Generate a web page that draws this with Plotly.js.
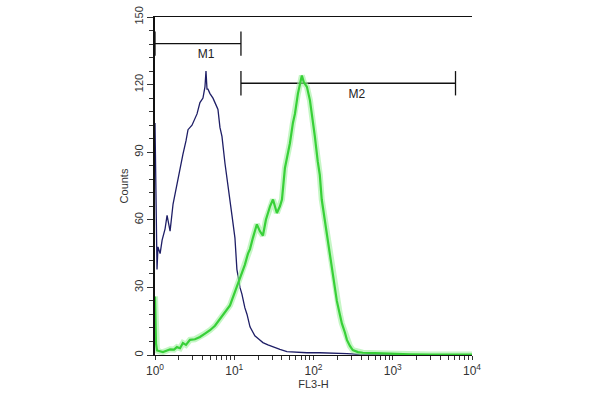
<!DOCTYPE html>
<html>
<head>
<meta charset="utf-8">
<script src="https://cdn.plot.ly/plotly-3.0.1.min.js"></script>
<style>html,body{margin:0;padding:0;background:#fff;}#chart{width:600px;height:400px;}</style>
</head>
<body>
<div id="chart"></div>
<script>
// FL3-H channel values and counts
const blueX = [1.00,1.06,1.09,1.16,1.23,1.34,1.42,1.55,1.69,1.84,2.07,2.25,2.46,2.61,2.93,3.19,3.39,3.69,4.03,4.27,4.40,4.53,4.66,4.94,5.39,5.88,6.23,6.60,7.00,7.64,8.09,8.33,8.83,9.36,10.2,10.8,11.8,12.5,13.6,14.5,15.8,17.2,18.2,20.5,23.0,26.6,30.8,37.7,46.2,58.3,82.6,120,186,264,385,687,1230,9350];
const blueY = [103,38,48,45,51,56,62,55,67,74,82,89,95,100,102,105,107,112,114,119,126,118,118,116,114,111,109,101,97,85,79,76,69,62,52,38,30,27,21,18,12.5,9.8,8.5,7,5.5,4.5,3.6,2.5,1.5,1.2,1,1,0.6,0.6,0.3,0.2,0,0];

const greenX = [1.00,1.03,1.06,1.16,1.26,1.42,1.55,1.74,1.89,2.07,2.25,2.46,2.76,3.19,3.69,4.27,4.94,5.71,6.60,7.64,8.83,10.2,11.8,13.6,14.9,15.8,17.2,19.3,21.0,23.0,25.1,28.3,30.8,34.5,37.7,40.0,43.6,47.6,50.4,55.0,58.3,63.6,67.3,71.3,75.5,82.6,90.2,95.6,104,113,120,127,139,147,161,170,186,197,215,228,249,264,288,313,364,418,595,920,1660,2940,10000];
const greenY = [26,5,2,1.5,1.3,2.0,2.5,2.4,3.5,3,5.3,4.5,6.7,7,8,9.5,11,13,16,19,22,28,34,40,45,47,52,58,55,53,60,66,69,63,66,69,83,89,94,103,107,116,120,124,121,119,113,107,97,86,80,69,60,54,46,39,30,24,18,14,10,6.7,4,2.2,1.3,1,0.8,0.5,0.3,0.2,0.2];

// Gates (markers)
const gateNames = ["M1", "M2"];
const gateStart = [1, 12.15];
const gateEnd = [12.15, 6194];
const gateLevel = [138.2, 120.6];
const gateLabelX = [4.4, 352];
const gateLabelY = [133.3, 115.5];

const yTickVals = [0, 30, 60, 90, 120, 150];
const xDecades = [1, 10, 100, 1000, 10000];
const xDecadeText = ["10<sup>0</sup>", "10<sup>1</sup>", "10<sup>2</sup>", "10<sup>3</sup>", "10<sup>4</sup>"];

// build log ticks: decades with labels, minor 2..9 without
const xTickVals = [], xTickText = [];
xDecades.forEach((d, i) => {
  xTickVals.push(d); xTickText.push(xDecadeText[i]);
  if (i < xDecades.length - 1) {
    for (let m = 2; m <= 9; m++) { xTickVals.push(d * m); xTickText.push(""); }
  }
});

const capHalf = 5.4;
const traces = [];
// gates
gateNames.forEach((n, i) => {
  traces.push({x: [gateStart[i], gateEnd[i]], y: [gateLevel[i], gateLevel[i]], mode: 'lines',
    line: {color: '#111', width: 1.3}, hoverinfo: 'skip', showlegend: false});
  [gateStart[i], gateEnd[i]].forEach(xx => {
    traces.push({x: [xx, xx], y: [gateLevel[i] - capHalf, gateLevel[i] + capHalf], mode: 'lines',
      line: {color: '#111', width: 1.3}, hoverinfo: 'skip', showlegend: false});
  });
});
traces.push({x: gateLabelX, y: gateLabelY, text: gateNames, mode: 'text',
  textfont: {family: 'Liberation Sans, Arial, sans-serif', size: 12, color: '#222'}, showlegend: false, hoverinfo: 'skip'});

// blue histogram
traces.push({x: blueX, y: blueY, mode: 'lines', line: {color: '#1e1e66', width: 1.3}, showlegend: false});
// green glow + line
traces.push({x: greenX, y: greenY, mode: 'lines', line: {color: '#9ef09e', width: 6}, opacity: 0.6, showlegend: false, hoverinfo: 'skip'});
traces.push({x: greenX, y: greenY, mode: 'lines', line: {color: '#38d038', width: 2.2}, showlegend: false});

const layout = {
  width: 600, height: 400,
  margin: {l: 155, r: 128, t: 17, b: 45},
  paper_bgcolor: '#fff', plot_bgcolor: '#fff',
  font: {family: 'Liberation Sans, Arial, sans-serif', color: '#333'},
  showlegend: false,
  xaxis: {
    type: 'log', range: [0, 4], showgrid: false, zeroline: false,
    showline: true, linecolor: '#111', linewidth: 1.3, mirror: true,
    ticks: 'outside', ticklen: 4, tickcolor: '#333', tickwidth: 1,
    tickmode: 'array', tickvals: xTickVals, ticktext: xTickText,
    tickfont: {size: 12, color: '#333'},
    title: {text: 'FL3-H', font: {size: 11, color: '#333'}, standoff: 2},
    layer: 'below traces'
  },
  yaxis: {
    range: [0, 150], showgrid: false, zeroline: false,
    showline: true, linecolor: '#111', linewidth: 1.6,
    ticks: 'outside', ticklen: 6, tickcolor: '#333',
    tickmode: 'array', tickvals: yTickVals, tickangle: -90,
    minor: {dtick: 6, ticks: 'outside', ticklen: 4, tickcolor: '#333'},
    tickfont: {size: 11, color: '#333'},
    title: {text: 'Counts', font: {size: 11, color: '#333'}, standoff: 2},
    layer: 'below traces'
  }
};
Plotly.newPlot('chart', traces, layout, {displayModeBar: false, staticPlot: true});
</script>
</body>
</html>
